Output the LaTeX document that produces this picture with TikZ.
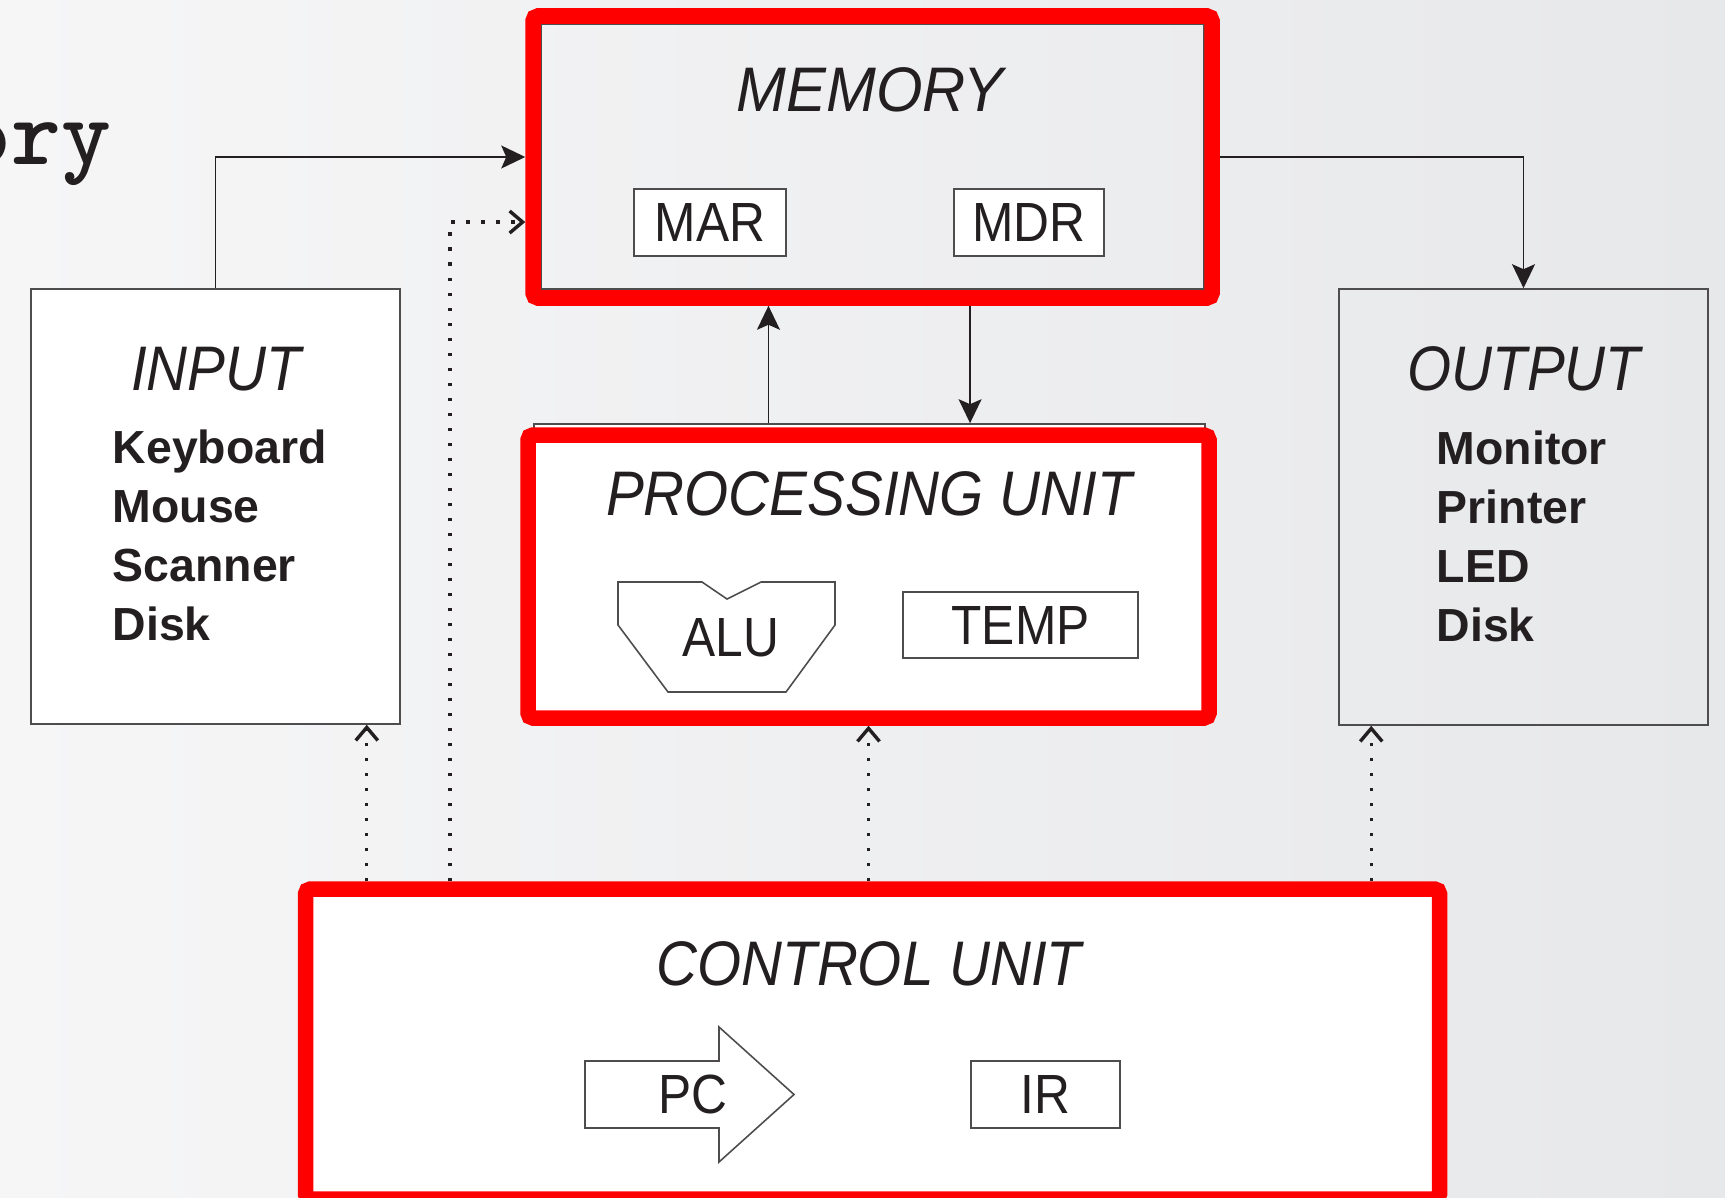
\documentclass[tikz,border=0pt]{standalone}
\usepackage{fontspec}
\setmainfont{Liberation Sans}
\usepackage{graphicx}
\usepackage{xcolor}
\usetikzlibrary{arrows.meta,calc,positioning,fit}

\definecolor{bgleft}{RGB}{246,246,247}
\definecolor{bgright}{RGB}{231,232,234}
\definecolor{hlred}{RGB}{255,0,0}
\definecolor{edge}{RGB}{35,31,32}

\newcommand{\narrowtxt}[2][0.9]{\scalebox{#1}[1]{#2}}

\begin{document}
\begin{tikzpicture}[x=0.01cm, y=-0.01cm,
		arrow/.style = {draw=edge, line width=0.45pt, -{Stealth[length=2.4mm,width=2.3mm,inset=0.5mm]}},
		ctrl/.style = {draw=edge, line width=0.34mm, dash pattern=on 0.34mm off 1.16mm, -{Straight Barb[length=1.3mm,width=2.2mm]}}]
		\tikzset{box/.style={draw=edge!80, line width=0.45pt, inner sep=0pt},
			hl/.style={draw=hlred, line width=1.55mm, rounded corners=0.5mm, inner sep=0pt},
			title/.style={font=\fontsize{17.9}{20}\selectfont\itshape, text=edge, inner sep=0pt},
			reg/.style={draw=edge!80, line width=0.45pt, inner sep=0pt, fill=white, font=\fontsize{15.7}{18}\selectfont, text=edge},
			dev/.style={font=\fontsize{13.2}{16.8}\selectfont\bfseries, text=edge, align=left, inner sep=0pt}}

		\useasboundingbox (0,0) rectangle (1725,1197);
		\clip (0,0) rectangle (1725,1197);
		\shade[left color=bgleft, right color=bgright] (0,0) rectangle (1725,1197);

		% slide heading (cut off)
		\node[anchor=base east, inner sep=0pt, font=\fontsize{27}{30}\selectfont\ttfamily\bfseries, text=edge] (heading) at (112,165) {ory};

		% INPUT / OUTPUT
		\node[box, fit={(31,289) (400,724)}, fill=white] (input) {};
		\node[title, anchor=base] (intitle) at (216,390) {\narrowtxt{INPUT}};
		\node[dev, anchor=north west] (indev) at (112,429) {Keyboard\\Mouse\\Scanner\\Disk};

		\node[box, fit={(1339,289) (1708,725)}] (output) {};
		\node[title, anchor=base] (outtitle) at (1524,390) {\narrowtxt{OUTPUT}};
		\node[dev, anchor=north west] (outdev) at (1436,430) {Monitor\\Printer\\LED\\Disk};

		% MEMORY
		\node[box, fit={(541,24) (1204,289)}] (memory) {};
		\node[title, anchor=base] (memtitle) at (870,112) {\narrowtxt[0.95]{MEMORY}};
		\node[reg, minimum width=1.52cm, minimum height=0.67cm] (mar) at (710,222.5) {\narrowtxt{MAR}};
		\node[reg, minimum width=1.5cm, minimum height=0.67cm] (mdr) at (1029,222.5) {\narrowtxt{MDR}};
		\node[hl, fit={(533,16) (1212,298)}] (memhl) {};

		% PROCESSING UNIT
		\node[box, fit={(534,424) (1205,712)}, fill=white] (pu) {};
		\node[hl, fit={(528,435) (1209,718)}] (puhl) {};
		\node[title, anchor=base] (putitle) at (869,515) {\narrowtxt{PROCESSING UNIT}};
		\draw[draw=edge!80, line width=0.45pt, fill=white] (618,582) -- (702,582) -- (727,599) -- (761,582) -- (835,582)
			-- (835,625) -- (786,692) -- (668,692) -- (618,625) -- cycle;
		\node[inner sep=0pt, font=\fontsize{15.7}{18}\selectfont, text=edge] (alu) at (731,638) {\narrowtxt{ALU}};
		\node[reg, minimum width=2.35cm, minimum height=0.66cm] (temp) at (1020.5,625) {\narrowtxt{TEMP}};

		% CONTROL UNIT
		\node[hl, fit={(305.5,889) (1439.5,1199)}, fill=white] (cuhl) {};
		\node[title, anchor=base] (cutitle) at (869,985) {\narrowtxt{CONTROL UNIT}};
		\draw[draw=edge!80, line width=0.45pt, fill=white] (585,1061) -- (719,1061) -- (719,1027) -- (794,1094.5)
			-- (719,1162) -- (719,1128) -- (585,1128) -- cycle;
		\node[inner sep=0pt, font=\fontsize{15.7}{18}\selectfont, text=edge] (pc) at (693,1094) {\narrowtxt{PC}};
		\node[reg, minimum width=1.49cm, minimum height=0.67cm] (ir) at (1045.5,1094.5) {\narrowtxt{IR}};

		% Arrows
		\draw [arrow] (input.north) |- (memhl.west);
		\draw [arrow] (memhl.east) -| (output.north);
		\draw [arrow] ([xshift=-1.01cm]pu.north) -- ([xshift=-1.01cm]pu.north |- memhl.south);
		\draw [arrow] ([xshift=0.975cm]memhl.south) -- ([xshift=0.975cm]memhl.south |- pu.north);

		\draw [ctrl] ([xshift=-3.4mm]cuhl.north -| input.south east) -- ([xshift=-3.4mm]input.south east);
		\draw [ctrl] (cuhl.north -| 450,0) |- ([yshift=-6.5mm]memhl.west);
		\draw [ctrl] (cuhl.north -| puhl.south) -- (puhl.south);
		\draw [ctrl] ([xshift=3.3mm]cuhl.north -| output.south west) -- ([xshift=3.3mm]output.south west);

	\end{tikzpicture}
\end{document}
